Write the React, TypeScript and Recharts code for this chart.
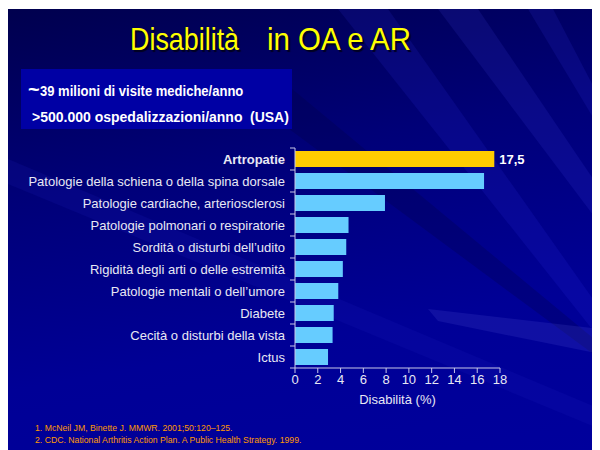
import { Bar, BarChart, Cell, LabelList, XAxis, YAxis } from "recharts";

const categories = [
  "Artropatie",
  "Patologie della schiena o della spina dorsale",
  "Patologie cardiache, arteriosclerosi",
  "Patologie polmonari o respiratorie",
  "Sordità o disturbi dell’udito",
  "Rigidità degli arti o delle estremità",
  "Patologie mentali o dell’umore",
  "Diabete",
  "Cecità o disturbi della vista",
  "Ictus",
];
const disability = [17.5, 16.6, 7.9, 4.7, 4.5, 4.2, 3.8, 3.4, 3.3, 2.9];
const xTicks = [0, 2, 4, 6, 8, 10, 12, 14, 16, 18];
const footnotes = [
  "1. McNeil JM, Binette J. MMWR. 2001;50:120–125.",
  "2. CDC. National Arthritis Action Plan. A Public Health Strategy. 1999.",
];

const data = categories.map((name, i) => ({ name, value: disability[i] }));

const FONT = "'Liberation Sans', Arial, sans-serif";
const AXIS = "#c8c8e8";
const BAND = 22;

function CategoryTick(props: any) {
  const { x, y, payload, index } = props;
  const bold = index === 0;
  return (
    <g>
      <line x1={x + 3} x2={x + 8} y1={y - BAND / 2} y2={y - BAND / 2} stroke={AXIS} />
      {index === categories.length - 1 && (
        <line x1={x + 3} x2={x + 8} y1={y + BAND / 2} y2={y + BAND / 2} stroke={AXIS} />
      )}
      <text
        x={x - 2}
        y={y + 5}
        textAnchor="end"
        fill="#e8e8f4"
        fontSize={13}
        fontWeight={bold ? 700 : 400}
        fontFamily={FONT}
      >
        {payload.value}
      </text>
    </g>
  );
}

function TopLabel(props: any) {
  const { x, y, width, height, index, value } = props;
  if (index !== 0) return null;
  return (
    <text
      x={x + width + 5}
      y={y + height / 2 + 5}
      fill="#ffffff"
      fontSize={13}
      fontWeight={700}
      fontFamily={FONT}
    >
      {String(value).replace(".", ",")}
    </text>
  );
}

const titleStyle = {
  position: "absolute" as const,
  top: 12,
  fontSize: 32,
  color: "#ffff00",
  whiteSpace: "pre" as const,
  transformOrigin: "left top",
  textShadow: "2px 2px 1px #000020",
};

export default function App() {
  return (
    <div
      style={{
        position: "relative",
        width: 592,
        height: 442,
        marginTop: 1,
        overflow: "hidden",
        background: "linear-gradient(170deg, #00004e 0%, #000078 35%, #000096 70%, #00009c 100%)",
        fontFamily: FONT,
      }}
    >
      <svg width={592} height={442} style={{ position: "absolute", left: 0, top: 0 }}>
        <polygon points="330,0 380,0 592,300 592,330" fill="#3a3aff" opacity={0.12} />
        <polygon points="430,0 470,0 592,180 592,215" fill="#5050ff" opacity={0.12} />
        <polygon points="520,0 545,0 592,90 592,120" fill="#4040ff" opacity={0.12} />
        <polygon points="200,60 260,60 592,335 592,350" fill="#000040" opacity={0.25} />
        <polygon points="420,300 592,320 592,345 430,312" fill="#8080ff" opacity={0.12} />
        <polygon points="0,150 0,175 592,420 592,400" fill="#2020c0" opacity={0.15} />
      </svg>

      <div style={{ ...titleStyle, left: 122, transform: "scaleX(0.84)" }}>Disabilità</div>
      <div style={{ ...titleStyle, left: 259, transform: "scaleX(0.92)" }}>in OA e AR</div>

      <div
        style={{
          position: "absolute",
          left: 13,
          top: 60,
          width: 271,
          height: 60,
          background: "#0000a4",
          color: "#ffffff",
          fontWeight: 700,
          fontSize: 14,
        }}
      >
        <div style={{ position: "absolute", left: 7, top: 13, whiteSpace: "pre" }}>
          <span style={{ fontSize: 20, lineHeight: "14px" }}>~</span>
          <span style={{ display: "inline-block", transform: "scaleX(0.93)", transformOrigin: "left" }}>
            39 milioni di visite mediche/anno
          </span>
        </div>
        <div style={{ position: "absolute", left: 11, top: 40, whiteSpace: "pre" }}>
          {">500.000 ospedalizzazioni/anno"}
        </div>
        <div style={{ position: "absolute", left: 229, top: 40 }}>(USA)</div>
      </div>

      <div style={{ position: "absolute", left: 0, top: 130 }}>
        <BarChart
          width={560}
          height={280}
          data={data}
          layout="vertical"
          margin={{ top: 9, right: 68, bottom: 6, left: 0 }}
        >
          <XAxis
            type="number"
            domain={[0, 18]}
            ticks={xTicks}
            interval={0}
            height={45}
            stroke={AXIS}
            tickSize={5}
            tick={{ fill: "#e8e8f4", fontSize: 13, fontFamily: FONT }}
            label={{
              value: "Disabilità (%)",
              position: "insideBottom",
              offset: 9,
              fill: "#e8e8f4",
              fontSize: 13,
              fontFamily: FONT,
            }}
          />
          <YAxis
            type="category"
            dataKey="name"
            width={287}
            stroke={AXIS}
            tickLine={false}
            interval={0}
            tick={<CategoryTick />}
          />
          <Bar dataKey="value" barSize={16} isAnimationActive={false}>
            {data.map((d, i) => (
              <Cell key={d.name} fill={i === 0 ? "#ffcc00" : "#66ccff"} />
            ))}
            <LabelList dataKey="value" content={<TopLabel />} />
          </Bar>
        </BarChart>
      </div>

      <div
        style={{
          position: "absolute",
          left: 27,
          top: 413,
          fontSize: 8.7,
          lineHeight: "12px",
          color: "#ff9900",
        }}
      >
        {footnotes.map((f) => (
          <div key={f}>{f}</div>
        ))}
      </div>
    </div>
  );
}
